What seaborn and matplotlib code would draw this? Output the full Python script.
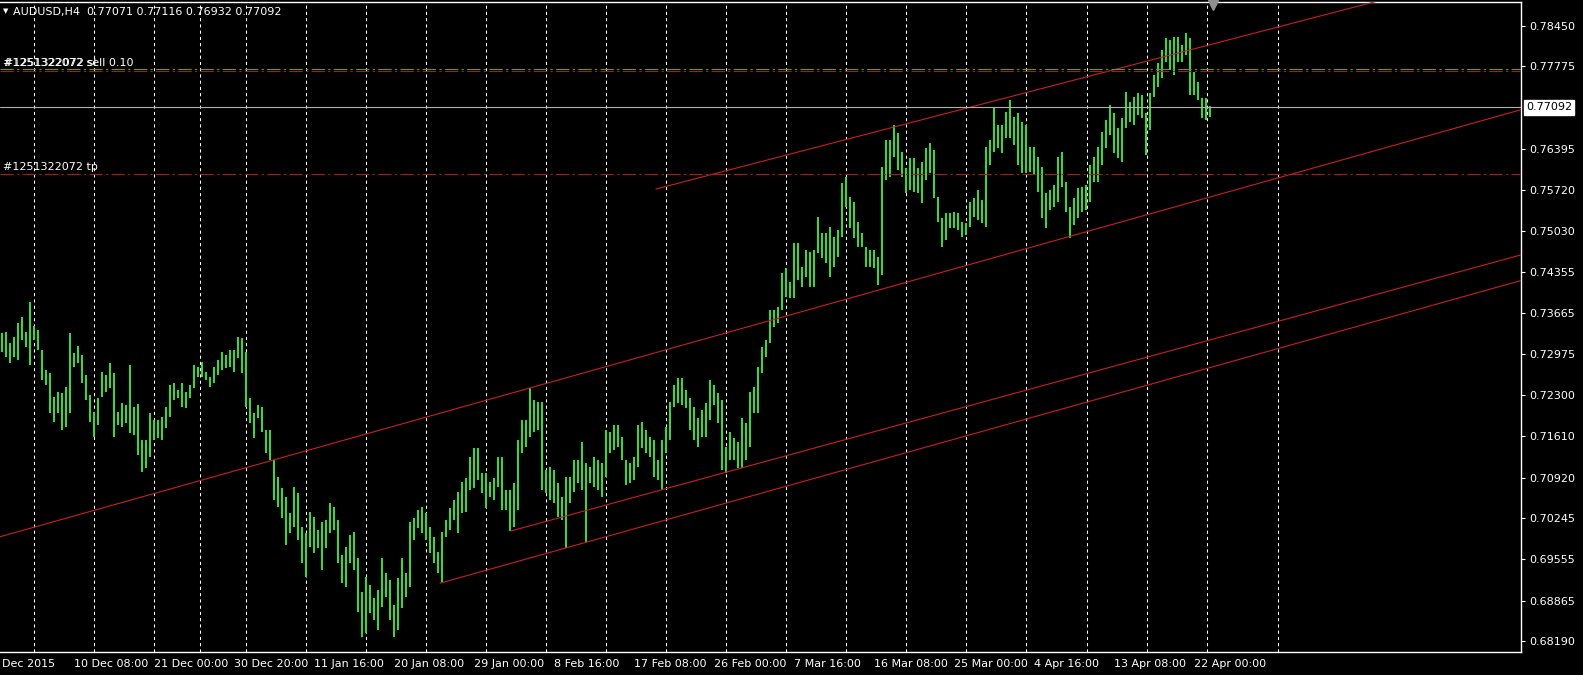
import matplotlib
matplotlib.use("Agg")
import matplotlib.pyplot as plt
import numpy as np
import pandas as pd
import seaborn as sns

# AUDUSD H4 (every second bar: high / low)
bar_high = [
    0.7333, 0.7335, 0.7316, 0.7326, 0.7350, 0.7360, 0.7335, 0.7385, 0.7345, 0.7338,
    0.7305, 0.7271, 0.7266, 0.7226, 0.7235, 0.7233, 0.7243, 0.7333, 0.7300, 0.7311,
    0.7296, 0.7263, 0.7230, 0.7201, 0.7225, 0.7268, 0.7263, 0.7283, 0.7266, 0.7201,
    0.7216, 0.7213, 0.7280, 0.7210, 0.7215, 0.7155, 0.7155, 0.7200, 0.7188, 0.7188,
    0.7193, 0.7210, 0.7246, 0.7250, 0.7238, 0.7250, 0.7235, 0.7246, 0.7280, 0.7276,
    0.7285, 0.7268, 0.7260, 0.7276, 0.7288, 0.7301, 0.7296, 0.7305, 0.7305, 0.7326,
    0.7325, 0.7301, 0.7225, 0.7200, 0.7213, 0.7210, 0.7171, 0.7171, 0.7121, 0.7093,
    0.7075, 0.7060, 0.7033, 0.7076, 0.7066, 0.7010, 0.7000, 0.7035, 0.7026, 0.7005,
    0.7018, 0.7021, 0.7050, 0.7043, 0.7021, 0.6963, 0.6976, 0.6996, 0.7001, 0.6958,
    0.6901, 0.6926, 0.6913, 0.6891, 0.6905, 0.6958, 0.6933, 0.6921, 0.6880, 0.6925,
    0.6958, 0.6933, 0.7018, 0.7025, 0.7038, 0.7043, 0.7033, 0.7010, 0.6993, 0.6968,
    0.7001, 0.7021, 0.7041, 0.7055, 0.7068, 0.7085, 0.7091, 0.7126, 0.7141, 0.7141,
    0.7100, 0.7100, 0.7085, 0.7091, 0.7126, 0.7126, 0.7071, 0.7071, 0.7083, 0.7155,
    0.7188, 0.7188, 0.7241, 0.7221, 0.7218, 0.7218, 0.7105, 0.7110, 0.7105, 0.7083,
    0.7060, 0.7093, 0.7093, 0.7121, 0.7121, 0.7151, 0.7116, 0.7110, 0.7126, 0.7121,
    0.7116, 0.7171, 0.7168, 0.7180, 0.7180, 0.7160, 0.7121, 0.7116, 0.7126, 0.7180,
    0.7185, 0.7171, 0.7160, 0.7155, 0.7121, 0.7155, 0.7176, 0.7218, 0.7246, 0.7258,
    0.7258, 0.7238, 0.7225, 0.7210, 0.7191, 0.7205, 0.7216, 0.7255, 0.7246, 0.7233,
    0.7221, 0.7143, 0.7168, 0.7158, 0.7151, 0.7191, 0.7183, 0.7235, 0.7243, 0.7276,
    0.7310, 0.7321, 0.7371, 0.7371, 0.7376, 0.7433, 0.7441, 0.7418, 0.7483, 0.7483,
    0.7443, 0.7471, 0.7468, 0.7471, 0.7526, 0.7500, 0.7500, 0.7510, 0.7493, 0.7505,
    0.7583, 0.7593, 0.7560, 0.7551, 0.7518, 0.7500, 0.7476, 0.7471, 0.7471, 0.7460,
    0.7610, 0.7655, 0.7655, 0.7680, 0.7666, 0.7635, 0.7608, 0.7625, 0.7625, 0.7608,
    0.7618, 0.7641, 0.7650, 0.7638, 0.7560, 0.7525, 0.7533, 0.7533, 0.7535, 0.7533,
    0.7518, 0.7516, 0.7551, 0.7558, 0.7571, 0.7555, 0.7643, 0.7655, 0.7708, 0.7680,
    0.7680, 0.7701, 0.7721, 0.7693, 0.7700, 0.7685, 0.7680, 0.7643, 0.7643, 0.7626,
    0.7610, 0.7566, 0.7571, 0.7580, 0.7626, 0.7635, 0.7585, 0.7543, 0.7558, 0.7575,
    0.7576, 0.7580, 0.7613, 0.7626, 0.7643, 0.7668, 0.7688, 0.7713, 0.7700, 0.7675,
    0.7691, 0.7735, 0.7718, 0.7726, 0.7733, 0.7730, 0.7700, 0.7733, 0.7763, 0.7783,
    0.7805, 0.7825, 0.7821, 0.7826, 0.7826, 0.7813, 0.7833, 0.7825, 0.7768, 0.7751,
    0.7725, 0.7725, 0.7712,
]
bar_low = [
    0.7301, 0.7293, 0.7283, 0.7293, 0.7288, 0.7321, 0.7310, 0.7280, 0.7321, 0.7305,
    0.7255, 0.7246, 0.7200, 0.7185, 0.7200, 0.7171, 0.7176, 0.7200, 0.7276, 0.7283,
    0.7250, 0.7221, 0.7185, 0.7160, 0.7180, 0.7226, 0.7235, 0.7241, 0.7160, 0.7180,
    0.7176, 0.7183, 0.7166, 0.7163, 0.7130, 0.7101, 0.7108, 0.7126, 0.7155, 0.7158,
    0.7155, 0.7175, 0.7193, 0.7221, 0.7225, 0.7210, 0.7208, 0.7225, 0.7241, 0.7260,
    0.7260, 0.7255, 0.7243, 0.7250, 0.7263, 0.7271, 0.7275, 0.7276, 0.7268, 0.7291,
    0.7266, 0.7210, 0.7183, 0.7158, 0.7191, 0.7168, 0.7133, 0.7121, 0.7055, 0.7043,
    0.7025, 0.6980, 0.7000, 0.7010, 0.6988, 0.6950, 0.6926, 0.6976, 0.6966, 0.6975,
    0.6938, 0.6975, 0.7000, 0.7005, 0.6950, 0.6916, 0.6910, 0.6950, 0.6938, 0.6868,
    0.6826, 0.6833, 0.6866, 0.6855, 0.6838, 0.6876, 0.6893, 0.6855, 0.6826, 0.6838,
    0.6875, 0.6893, 0.6910, 0.6988, 0.7008, 0.7000, 0.6988, 0.6966, 0.6950, 0.6933,
    0.6918, 0.6993, 0.7005, 0.7021, 0.7000, 0.7033, 0.7035, 0.7071, 0.7075, 0.7088,
    0.7066, 0.7041, 0.7060, 0.7055, 0.7076, 0.7038, 0.7038, 0.7003, 0.7010, 0.7038,
    0.7133, 0.7143, 0.7160, 0.7168, 0.7171, 0.7071, 0.7066, 0.7055, 0.7050, 0.7026,
    0.7021, 0.6975, 0.7050, 0.7068, 0.7083, 0.7071, 0.6985, 0.7083, 0.7076, 0.7071,
    0.7060, 0.7093, 0.7133, 0.7138, 0.7143, 0.7121, 0.7080, 0.7083, 0.7088, 0.7110,
    0.7141, 0.7133, 0.7126, 0.7093, 0.7088, 0.7071, 0.7133, 0.7155, 0.7210, 0.7216,
    0.7213, 0.7208, 0.7171, 0.7155, 0.7143, 0.7160, 0.7160, 0.7188, 0.7213, 0.7183,
    0.7105, 0.7100, 0.7121, 0.7121, 0.7108, 0.7108, 0.7121, 0.7143, 0.7200, 0.7200,
    0.7266, 0.7293, 0.7316, 0.7343, 0.7350, 0.7371, 0.7393, 0.7391, 0.7391, 0.7421,
    0.7410, 0.7426, 0.7410, 0.7410, 0.7466, 0.7458, 0.7450, 0.7426, 0.7443, 0.7460,
    0.7493, 0.7543, 0.7508, 0.7491, 0.7476, 0.7476, 0.7443, 0.7443, 0.7441, 0.7413,
    0.7430, 0.7588, 0.7593, 0.7626, 0.7605, 0.7593, 0.7566, 0.7571, 0.7568, 0.7566,
    0.7550, 0.7588, 0.7600, 0.7558, 0.7518, 0.7476, 0.7488, 0.7508, 0.7508, 0.7505,
    0.7493, 0.7496, 0.7510, 0.7526, 0.7521, 0.7516, 0.7510, 0.7613, 0.7635, 0.7641,
    0.7633, 0.7658, 0.7658, 0.7646, 0.7613, 0.7600, 0.7600, 0.7601, 0.7596, 0.7568,
    0.7525, 0.7508, 0.7538, 0.7543, 0.7551, 0.7576, 0.7535, 0.7491, 0.7513, 0.7525,
    0.7535, 0.7538, 0.7551, 0.7585, 0.7585, 0.7613, 0.7641, 0.7663, 0.7633, 0.7625,
    0.7618, 0.7675, 0.7685, 0.7680, 0.7696, 0.7691, 0.7630, 0.7671, 0.7726, 0.7743,
    0.7758, 0.7785, 0.7771, 0.7763, 0.7785, 0.7785, 0.7796, 0.7730, 0.7730, 0.7721,
    0.7691, 0.7688, 0.7693,
]

# trend lines: two anchor points each (bar number, price)
trend_x1 = [115, 328, 255.5, 220]
trend_p1 = [0.7101, 0.7573, 0.7003, 0.6916]
trend_x2 = [240, 495, 385, 385]
trend_p2 = [0.7218, 0.7718, 0.7121, 0.7070]

# order levels
sell_price = 0.7773
sl_price = 0.7770
tp_price = 0.7598
bid_price = 0.77092
header = "AUDUSD,H4  0.77071 0.77116 0.76932 0.77092"
order_id = "#1251322072"

y_ticks = [0.78450, 0.77775, 0.76395, 0.75720, 0.75030, 0.74355, 0.73665, 0.72975,
           0.72300, 0.71610, 0.70920, 0.70245, 0.69555, 0.68865, 0.68190]
x_tick_bars = [1, 37, 77, 117, 157, 197, 237, 277, 317, 357, 397, 437, 477, 517, 557, 597]
x_tick_labels = ["Dec 2015", "10 Dec 08:00", "21 Dec 00:00", "30 Dec 20:00", "11 Jan 16:00",
                 "20 Jan 08:00", "29 Jan 00:00", "8 Feb 16:00", "17 Feb 08:00", "26 Feb 00:00",
                 "7 Mar 16:00", "16 Mar 08:00", "25 Mar 00:00", "4 Apr 16:00", "13 Apr 08:00",
                 "22 Apr 00:00"]
grid_bars = [17, 47, 77, 100, 123, 153, 183, 213, 243, 273, 303, 333, 363, 393, 423,
             453, 483, 513, 543.5, 573.5, 603.5, 639]

df = pd.DataFrame({"high": bar_high, "low": bar_low})
df["bar"] = np.arange(len(df)) * 2 + 1

sns.set_theme(style="dark", rc={"axes.facecolor": "black", "figure.facecolor": "black",
                                "axes.edgecolor": "white", "text.color": "white",
                                "xtick.color": "white", "ytick.color": "white"})
plt.rcParams["font.family"] = ["DejaVu Sans"]
plt.rcParams["font.size"] = 8

W, H = 1583, 675
fig = plt.figure(figsize=(W / 100, H / 100), dpi=100)
ax = fig.add_axes([0, (H - 652) / H, 1521 / W, 650 / H])
ax.set_xlim(0, 760.5)
ax.set_ylim(0.68013, 0.78847)

green = "#38D838"
red = "#C82020"

# vertical grid
for g in grid_bars:
    ax.axvline(g, color="white", lw=0.75, ls=(0, (3, 3)), zorder=1)

# bars
ax.vlines(df["bar"], df["low"], df["high"], color=green, lw=1.45, zorder=2)

# trend lines
x_end = 760.5
for i in range(len(trend_x1)):
    slope = (trend_p2[i] - trend_p1[i]) / (trend_x2[i] - trend_x1[i])
    x_start = 0 if i == 0 else trend_x1[i]
    xs = np.array([x_start, x_end])
    ax.plot(xs, trend_p1[i] + slope * (xs - trend_x1[i]), color=red, lw=0.8, zorder=3)

# order / price lines
ax.axhline(sl_price, color="#B01818", lw=0.8, ls=(0, (12, 3, 2, 3)), zorder=3)
ax.axhline(sell_price, color="#4FA03C", lw=0.8, ls=(0, (12, 3, 2, 3)), zorder=3)
ax.axhline(tp_price, color="#B01818", lw=0.8, ls=(0, (12, 3, 2, 3)), zorder=3)
ax.axhline(bid_price, color="#B0B0B0", lw=0.8, zorder=3)

# shift marker at the top
ax.plot([1213 / 1521], [1 - 3 / 650], marker="v", ms=7, color="#909090",
        transform=ax.transAxes, clip_on=False, zorder=4)

# axes look
ax.spines["left"].set_visible(False)
for side in ["right", "bottom", "top"]:
    ax.spines[side].set_color("white")
    ax.spines[side].set_linewidth(1.0)
ax.grid(False)
ax.yaxis.tick_right()
ax.set_yticks(y_ticks)
ax.set_yticklabels([f"{v:.5f}" for v in y_ticks])
ax.set_xticks(x_tick_bars)
ax.set_xticklabels(x_tick_labels, ha="left")
ax.tick_params(axis="y", direction="out", length=3, width=0.8, pad=3, labelsize=8, colors="white")
ax.tick_params(axis="x", direction="out", length=3, width=0.8, pad=2, labelsize=8, colors="white")
ax.set_xlabel("")
ax.set_ylabel("")

# bid price box
ax.annotate(f"{bid_price:.5f}", xy=(1.0, bid_price), xycoords=ax.get_yaxis_transform(),
            xytext=(5, 0), textcoords="offset pixels", ha="left", va="center",
            color="black", fontsize=8,
            bbox=dict(boxstyle="square,pad=0.2", fc="white", ec="white"))

# texts (the two order labels sit on top of each other, as in the terminal)
fig.text(3 / W, 1 - 11 / H, "\u25bc", fontsize=5, color="white", va="center")
fig.text(13 / W, 1 - 12 / H, header, fontsize=8, color="white", va="center")
fig.text(3 / W, 1 - 63 / H, f"{order_id} sell 0.10", fontsize=8, color="white", va="center")
fig.text(3.6 / W, 1 - 63 / H, f"{order_id} sl", fontsize=8, color="white", va="center")
fig.text(3 / W, 1 - 167 / H, f"{order_id} tp", fontsize=8, color="white", va="center")

fig.savefig("out.png", dpi=100, facecolor="black")
